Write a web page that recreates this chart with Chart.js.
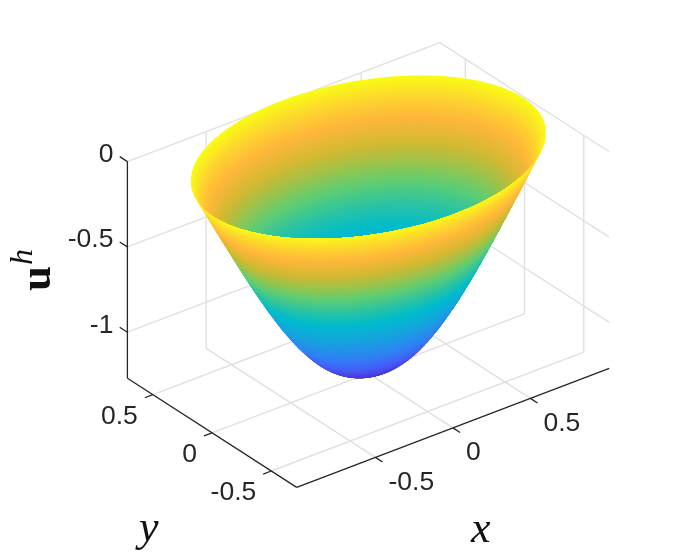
<!DOCTYPE html>
<html>
<head>
<meta charset="utf-8">
<style>
  html, body { margin: 0; padding: 0; background: #fff; }
  canvas { display: block; }
</style>
<script src="https://cdn.jsdelivr.net/npm/chart.js@4"></script>
</head>
<body>
<canvas id="myChart" width="698" height="559"></canvas>
<script>
// axis ticks
const xTicks = [-0.5, 0, 0.5];
const yTicks = [-0.5, 0, 0.5];
const zTicks = [0, -0.5, -1];
const xTickLabels = ['-0.5', '0', '0.5'];
const yTickLabels = ['-0.5', '0', '0.5'];
const zTickLabels = ['0', '-0.5', '-1'];

// axis limits
const xLimits = [-1.008, 1.008];
const yLimits = [-0.715, 0.715];
const zLimits = [-1.27, 0];

// the surface: size of each ring relative to the rim and its height,
// estimated from the outline of the bowl
const ringRadius = [
  1, 0.995, 0.99, 0.985, 0.98, 0.975, 0.97, 0.965, 0.96, 0.955,
  0.95, 0.945, 0.94, 0.935, 0.93, 0.925, 0.92, 0.915, 0.91, 0.905,
  0.9, 0.895, 0.89, 0.885, 0.88, 0.875, 0.87, 0.865, 0.86, 0.855,
  0.85, 0.845, 0.84, 0.835, 0.83, 0.825, 0.82, 0.815, 0.81, 0.805,
  0.8, 0.795, 0.79, 0.785, 0.78, 0.775, 0.77, 0.765, 0.76, 0.755,
  0.75, 0.745, 0.74, 0.735, 0.73, 0.725, 0.72, 0.715, 0.71, 0.705,
  0.7, 0.695, 0.69, 0.685, 0.68, 0.675, 0.67, 0.665, 0.66, 0.655,
  0.65, 0.645, 0.64, 0.635, 0.63, 0.625, 0.62, 0.615, 0.61, 0.605,
  0.6, 0.595, 0.59, 0.585, 0.58, 0.575, 0.57, 0.565, 0.56, 0.555,
  0.55, 0.545, 0.54, 0.535, 0.53, 0.525, 0.52, 0.515, 0.51, 0.505,
  0.5, 0.49, 0.48, 0.47, 0.46, 0.45, 0.44, 0.43, 0.42, 0.41,
  0.4, 0.39, 0.38, 0.37, 0.36, 0.35, 0.34, 0.33, 0.32, 0.31,
  0.3, 0.29, 0.28, 0.27, 0.26, 0.25, 0.24, 0.23, 0.22, 0.21,
  0.2, 0.19, 0.18, 0.17, 0.16, 0.15, 0.14, 0.13, 0.12, 0.11,
  0.1, 0.09, 0.08, 0.07, 0.06, 0.05, 0.04, 0.03, 0.02, 0.01, 0
];
const ringHeight = [
  0, -0.0095, -0.019, -0.0285, -0.038, -0.0475, -0.057, -0.0665, -0.076, -0.0855,
  -0.095, -0.1045, -0.114, -0.1235, -0.133, -0.1425, -0.152, -0.1615, -0.171, -0.1805,
  -0.19, -0.1995, -0.209, -0.2185, -0.228, -0.237, -0.246, -0.2555, -0.265, -0.2745,
  -0.284, -0.293, -0.302, -0.3115, -0.321, -0.3305, -0.34, -0.349, -0.358, -0.3675,
  -0.377, -0.3865, -0.396, -0.405, -0.414, -0.423, -0.432, -0.4415, -0.451, -0.46,
  -0.469, -0.4785, -0.488, -0.497, -0.506, -0.515, -0.524, -0.533, -0.542, -0.551,
  -0.56, -0.569, -0.578, -0.587, -0.596, -0.6045, -0.613, -0.622, -0.631, -0.6395,
  -0.648, -0.6565, -0.665, -0.6735, -0.682, -0.6905, -0.699, -0.7075, -0.716, -0.7245,
  -0.733, -0.7415, -0.75, -0.758, -0.766, -0.774, -0.782, -0.79, -0.798, -0.806,
  -0.814, -0.822, -0.83, -0.838, -0.846, -0.8535, -0.861, -0.8685, -0.876, -0.8835,
  -0.891, -0.905, -0.92, -0.934, -0.948, -0.961, -0.975, -0.988, -1.001, -1.013,
  -1.025, -1.037, -1.049, -1.06, -1.071, -1.082, -1.092, -1.102, -1.112, -1.122,
  -1.131, -1.14, -1.148, -1.156, -1.164, -1.171, -1.178, -1.185, -1.191, -1.197,
  -1.203, -1.208, -1.213, -1.218, -1.223, -1.227, -1.231, -1.235, -1.238, -1.242,
  -1.245, -1.247, -1.249, -1.251, -1.253, -1.255, -1.256, -1.257, -1.258, -1.2585, -1.259
];
const rimX = 1.0;
const rimY = 0.733;

// colour against height
const colorHeights = [0, -0.09, -0.19, -0.31, -0.4, -0.49, -0.6, -0.7, -0.85, -1.0, -1.1, -1.18, -1.259];
const colorValues = [
  [249, 251, 21], [253, 215, 45], [255, 183, 58], [210, 185, 50], [155, 195, 75],
  [95, 205, 115], [40, 195, 165], [0, 187, 205], [25, 160, 225], [50, 125, 245],
  [70, 90, 248], [72, 60, 220], [62, 38, 168]
];

// view: pixel position of the box centre at z=0 and one unit along each axis
const origin = [368.3, 156.7];
const ux = [155, -59];
const uy = [-118.4, -76.3];
const uz = [0, -170.6];

const gridColor = '#e0e0e0';
const axisColor = '#262626';

function project(x, y, z) {
  return {
    x: origin[0] + ux[0] * x + uy[0] * y + uz[0] * z,
    y: origin[1] + ux[1] * x + uy[1] * y + uz[1] * z,
  };
}

function colorAt(z) {
  for (let i = 1; i < colorHeights.length; i++) {
    if (z >= colorHeights[i]) {
      const t = (z - colorHeights[i - 1]) / (colorHeights[i] - colorHeights[i - 1]);
      const c = colorValues[i - 1].map((v, j) => Math.round(v + (colorValues[i][j] - v) * t));
      return `rgb(${c[0]},${c[1]},${c[2]})`;
    }
  }
  return 'rgb(62,38,168)';
}

// a ring of the surface, in pixels
function ringPoints(k, steps = 240) {
  const pts = [];
  for (let i = 0; i < steps; i++) {
    const a = (i / steps) * 2 * Math.PI;
    pts.push(project(rimX * ringRadius[k] * Math.cos(a), rimY * ringRadius[k] * Math.sin(a), ringHeight[k]));
  }
  return pts;
}

// is this pixel inside ring k when seen from the camera
const det = ux[0] * uy[1] - ux[1] * uy[0];
function insideRing(p, k) {
  const c = project(0, 0, ringHeight[k]);
  const dx = p.x - c.x;
  const dy = p.y - c.y;
  const wx = (dx * uy[1] - dy * uy[0]) / det / rimX;
  const wy = (ux[0] * dy - ux[1] * dx) / det / rimY;
  return wx * wx + wy * wy <= ringRadius[k] * ringRadius[k] + 1e-9;
}

// part of ring k seen through the opening of the rim
function visibleInside(k) {
  const pts = ringPoints(k).filter(p => insideRing(p, 0))
    .concat(ringPoints(0).filter(p => insideRing(p, k)));
  if (pts.length < 3) return null;
  const cx = pts.reduce((s, p) => s + p.x, 0) / pts.length;
  const cy = pts.reduce((s, p) => s + p.y, 0) / pts.length;
  return pts.sort((a, b) => Math.atan2(a.y - cy, a.x - cx) - Math.atan2(b.y - cy, b.x - cx));
}

function lineSet(from, to, color, width) {
  return {
    data: [project(...from), project(...to)],
    showLine: true, pointRadius: 0, borderColor: color, borderWidth: width, fill: false,
  };
}

function shapeSet(points, color) {
  const closed = points.concat([points[0]]);
  return {
    data: closed,
    showLine: true, pointRadius: 0, borderWidth: 0, borderColor: color,
    backgroundColor: color, fill: 'shape', tension: 0,
  };
}

// listed in painting order, reversed below since Chart.js paints the first dataset last
const layers = [];
const [x0, x1] = xLimits;
const [y0, y1] = yLimits;
const [z0, z1] = zLimits;

zTicks.forEach(z => {
  layers.push(lineSet([x0, y1, z], [x1, y1, z], gridColor, 1.4));
  layers.push(lineSet([x1, y1, z], [x1, y0, z], gridColor, 1.4));
});
xTicks.forEach(x => {
  layers.push(lineSet([x, y1, z1], [x, y1, z0], gridColor, 1.4));
  layers.push(lineSet([x, y1, z0], [x, y0, z0], gridColor, 1.4));
});
yTicks.forEach(y => {
  layers.push(lineSet([x1, y, z1], [x1, y, z0], gridColor, 1.4));
  layers.push(lineSet([x1, y, z0], [x0, y, z0], gridColor, 1.4));
});

// outside of the bowl, bottom ring first so that higher rings cover lower ones
for (let k = ringHeight.length - 2; k >= 0; k--) {
  layers.push(shapeSet(ringPoints(k), colorAt(ringHeight[k])));
}
// inside of the bowl, seen through the rim, deeper rings on top
for (let k = 1; k < ringHeight.length - 1; k++) {
  const pts = visibleInside(k);
  if (!pts) break;
  layers.push(shapeSet(pts, colorAt(ringHeight[k])));
}

// box edges and tick marks
layers.push(lineSet([x0, y1, z1], [x0, y1, z0], axisColor, 1.3));
layers.push(lineSet([x0, y1, z0], [x0, y0, z0], axisColor, 1.3));
layers.push(lineSet([x0, y0, z0], [x1, y0, z0], axisColor, 1.3));
zTicks.forEach(z => layers.push(lineSet([x0, y1, z], [x0, y1 + 0.065, z], axisColor, 1.3)));
yTicks.forEach(y => layers.push(lineSet([x0, y, z0], [x0 - 0.052, y, z0], axisColor, 1.3)));
xTicks.forEach(x => layers.push(lineSet([x, y0, z0], [x, y0 - 0.06, z0], axisColor, 1.3)));

const textPlugin = {
  id: 'axisText',
  afterDatasetsDraw(chart) {
    const { ctx, scales } = chart;
    const at = (p, dx, dy) => [scales.x.getPixelForValue(p.x) + dx, scales.y.getPixelForValue(p.y) + dy];
    ctx.save();
    ctx.fillStyle = axisColor;
    ctx.font = '26.5px "Liberation Sans"';
    ctx.textBaseline = 'middle';
    ctx.textAlign = 'right';
    zTicks.forEach((z, i) => ctx.fillText(zTickLabels[i], ...at(project(x0, y1, z), -14, -7)));
    yTicks.forEach((y, i) => ctx.fillText(yTickLabels[i], ...at(project(x0, y, z0), -15, 22)));
    ctx.textAlign = 'left';
    xTicks.forEach((x, i) => ctx.fillText(xTickLabels[i], ...at(project(x, y0, z0), 13, 25)));

    ctx.fillStyle = '#111';
    ctx.textBaseline = 'alphabetic';
    ctx.font = 'italic 44px "Liberation Serif"';
    ctx.fillText('x', 471, 542);
    ctx.fillText('y', 139, 541);

    ctx.translate(50, 291);
    ctx.rotate(-Math.PI / 2);
    ctx.font = 'bold 45px "Liberation Serif"';
    ctx.fillText('u', 0, 0);
    ctx.font = 'italic 32px "Liberation Serif"';
    ctx.fillText('h', 26, -18);
    ctx.restore();
  },
};

const config = {
  type: 'scatter',
  data: { datasets: layers.reverse() },
  options: {
    responsive: false,
    animation: false,
    events: [],
    layout: { padding: 0 },
    plugins: { legend: { display: false }, tooltip: { enabled: false }, title: { display: false } },
    scales: {
      x: { type: 'linear', display: false, min: 0, max: 698 },
      y: { type: 'linear', display: false, min: 0, max: 559, reverse: true },
    },
  },
  plugins: [textPlugin],
};

const ctx = document.getElementById('myChart').getContext('2d');
const myChart = new Chart(ctx, config);
</script>
</body>
</html>
